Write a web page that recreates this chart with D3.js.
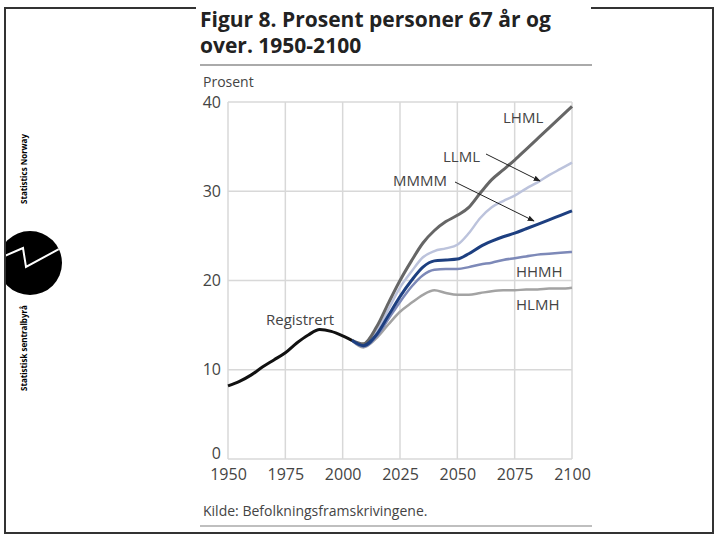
<!DOCTYPE html>
<html>
<head>
<meta charset="utf-8">
<script src="https://cdn.jsdelivr.net/npm/d3@7"></script>
<style>
	body{margin:0;background:#fff;}
	text{font-family:"Open Sans",sans-serif;}
</style>
</head>
<body>
<div id="chart"></div>
<script>

// registered values 1950-2004
const regYears = [1950,1955,1960,1965,1970,1975,1980,1985,1990,1995,2000,2004];
const registrert = [8.2,8.7,9.4,10.3,11.1,11.9,13.0,13.9,14.5,14.3,13.8,13.3];

// projections 2004-2100
const projYears = [2004,2009,2015,2020,2025,2030,2035,2040,2045,2050,2055,2060,2065,2070,2075,2080,2085,2090,2095,2100];
const lhml = [13.3,12.9,14.9,17.5,20.0,22.2,24.2,25.6,26.6,27.3,28.2,29.8,31.3,32.4,33.5,34.7,35.9,37.1,38.3,39.5];
const llml = [13.3,12.7,14.4,16.8,19.2,21.0,22.6,23.3,23.6,24.0,25.3,27.0,28.2,28.9,29.5,30.3,31.0,31.8,32.5,33.2];
const mmmm = [13.3,12.7,14.0,16.1,18.2,20.0,21.5,22.2,22.3,22.4,23.0,23.8,24.4,24.9,25.3,25.8,26.3,26.8,27.3,27.8];
const hhmh = [13.3,12.6,13.8,15.7,17.6,19.3,20.6,21.2,21.3,21.3,21.5,21.8,22.0,22.3,22.5,22.7,22.9,23.0,23.1,23.2];
const hlmh = [13.3,12.5,13.6,15.1,16.5,17.5,18.4,18.9,18.6,18.4,18.4,18.6,18.8,18.9,18.9,19.0,19.0,19.1,19.1,19.2];

const xTicks = [1950,1975,2000,2025,2050,2075,2100];
const yTicks = [0,10,20,30,40];

const W = 720, H = 540;

const svg = d3.select('#chart')
	.append('svg')
	.attr('width', W)
	.attr('height', H);

const x = d3.scaleLinear().domain([1950,2100]).range([228,572]);
const y = d3.scaleLinear().domain([0,40]).range([459,102]);

// logo (drawn before frame so the frame sits over its left edge)
const defs = svg.append('defs');
defs.append('clipPath').attr('id','logoclip')
	.append('rect').attr('x',6).attr('y',220).attr('width',70).attr('height',90);
defs.append('clipPath').attr('id','circ')
	.append('circle').attr('cx',30).attr('cy',263).attr('r',32);

const logo = svg.append('g').attr('class','logo');
logo.append('g').attr('clip-path','url(#logoclip)')
	.append('circle').attr('cx',30).attr('cy',263).attr('r',32).attr('fill','#000');
logo.append('path')
	.attr('d','M0,258 L23,248 L26,267 L70,243')
	.attr('clip-path','url(#circ)')
	.attr('fill','none').attr('stroke','#fff').attr('stroke-width',2);
logo.append('text')
	.attr('transform','translate(27,204) rotate(-90)')
	.style('font-size','8px').style('font-weight','bold').attr('fill','#000')
	.text('Statistics Norway');
logo.append('text')
	.attr('transform','translate(27,391) rotate(-90)')
	.style('font-size','8px').style('font-weight','bold').attr('fill','#000')
	.text('Statistisk sentralbyrå');

// outer frame
svg.append('path').attr('d','M196,8 H5 V533 H713 V8 H591')
	.attr('stroke','#333').attr('stroke-width',2).attr('fill','none');

// title
const title = svg.append('text')
	.style('font-size','21px').style('font-weight','bold').attr('fill','#222');
title.append('tspan').attr('x',200).attr('y',27).text('Figur 8. Prosent personer 67 år og');
title.append('tspan').attr('x',200).attr('y',53).text('over. 1950-2100');

svg.append('line').attr('x1',200).attr('x2',592).attr('y1',65).attr('y2',65)
	.attr('stroke','#aaa').attr('stroke-width',2);

svg.append('text').attr('x',203).attr('y',87).text('Prosent')
	.style('font-size','14px').attr('fill','#444');

// grid
const plot = svg.append('g').attr('class','plot');

plot.selectAll('.vgrid')
	.data(xTicks)
	.enter().append('line')
	.attr('class','vgrid')
	.attr('x1',d=>x(d)).attr('x2',d=>x(d))
	.attr('y1',y(0)).attr('y2',y(40))
	.attr('stroke','#d8d8d8').attr('stroke-width',1.5);

plot.selectAll('.hgrid')
	.data(yTicks)
	.enter().append('line')
	.attr('class','hgrid')
	.attr('x1',x(1950)).attr('x2',x(2100))
	.attr('y1',d=>y(d)).attr('y2',d=>y(d))
	.attr('stroke','#d8d8d8').attr('stroke-width',1.5);

// axes labels
const xAxis = d3.axisBottom(x).tickValues(xTicks).tickFormat(d3.format('d')).tickSize(0).tickPadding(10);
svg.append('g').attr('transform',`translate(0,${y(0)})`).call(xAxis)
	.call(g=>g.select('.domain').remove())
	.selectAll('text').style('font-size','16px').attr('fill','#444');

const yAxis = d3.axisLeft(y).tickValues(yTicks).tickSize(0).tickPadding(7);
svg.append('g').attr('transform',`translate(${x(1950)},0)`).call(yAxis)
	.call(g=>g.select('.domain').remove())
	.selectAll('text').style('font-size','16px').attr('fill','#444')
	.attr('dy',d=>d===0 ? '-0.05em' : '0.32em');

// lines
const line = d3.line()
	.x(d=>x(d[0]))
	.y(d=>y(d[1]))
	.curve(d3.curveMonotoneX);

const series = [
	{name:'HLMH', values:hlmh, color:'#a3a3a3', w:2.5},
	{name:'HHMH', values:hhmh, color:'#7d89b8', w:2.5},
	{name:'LLML', values:llml, color:'#bcc3dc', w:2.5},
	{name:'LHML', values:lhml, color:'#666666', w:3},
	{name:'MMMM', values:mmmm, color:'#1d3f80', w:3}
];

plot.selectAll('.proj')
	.data(series)
	.enter().append('path')
	.attr('class','proj')
	.attr('d',d=>line(d3.zip(projYears,d.values)))
	.attr('fill','none')
	.attr('stroke',d=>d.color)
	.attr('stroke-width',d=>d.w)
	.attr('stroke-linejoin','round');

plot.append('path')
	.attr('d',line(d3.zip(regYears,registrert)))
	.attr('fill','none')
	.attr('stroke','#111')
	.attr('stroke-width',3)
	.attr('stroke-linejoin','round');

// labels
const lab = svg.append('g').style('font-size','15px').attr('fill','#444');
lab.append('text').attr('x',266).attr('y',325).text('Registrert');
lab.append('text').attr('x',503).attr('y',123).text('LHML');
lab.append('text').attr('x',443).attr('y',162).text('LLML');
lab.append('text').attr('x',393).attr('y',186).text('MMMM');
lab.append('text').attr('x',516).attr('y',277).text('HHMH');
lab.append('text').attr('x',516).attr('y',310).text('HLMH');

// arrows
defs.append('marker')
	.attr('id','arr')
	.attr('viewBox','0 0 10 10')
	.attr('refX',9).attr('refY',5)
	.attr('markerWidth',7).attr('markerHeight',7)
	.attr('orient','auto')
	.append('path').attr('d','M0,1 L10,5 L0,9 z').attr('fill','#222');

svg.append('line').attr('x1',486).attr('y1',154).attr('x2',540).attr('y2',181)
	.attr('stroke','#222').attr('stroke-width',1).attr('marker-end','url(#arr)');
svg.append('line').attr('x1',455).attr('y1',182).attr('x2',534).attr('y2',221)
	.attr('stroke','#222').attr('stroke-width',1).attr('marker-end','url(#arr)');

// bottom
svg.append('text').attr('x',203).attr('y',516).text('Kilde: Befolkningsframskrivingene.')
	.style('font-size','14px').attr('fill','#444');
svg.append('line').attr('x1',200).attr('x2',592).attr('y1',526).attr('y2',526)
	.attr('stroke','#aaa').attr('stroke-width',1.5);

</script>
</body>
</html>
